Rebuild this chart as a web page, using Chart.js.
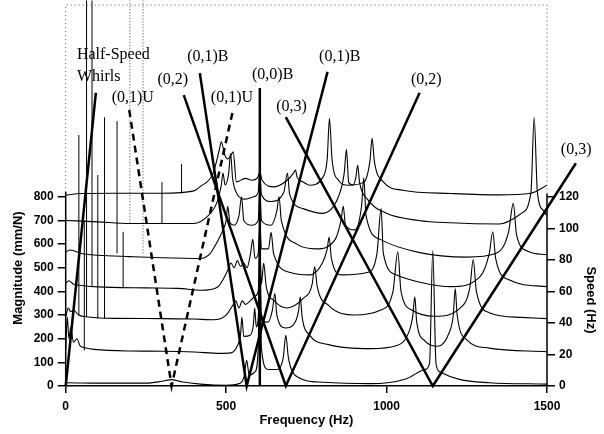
<!DOCTYPE html>
<html>
<head>
<meta charset="utf-8">
<script src="https://cdn.jsdelivr.net/npm/chart.js@4.4.1/dist/chart.umd.min.js"></script>
<style>
  body { margin: 0; background: #fff; }
  canvas { display: block; }
</style>
</head>
<body>
<canvas id="grafico" width="604" height="434"></canvas>
<script>
// eixos
const freqTicks = [0, 500, 1000, 1500];
const magTicks = [0, 100, 200, 300, 400, 500, 600, 700, 800];
const speedTicks = [0, 20, 40, 60, 80, 100, 120];

// espectros (frequência Hz, magnitude mm/N), um por velocidade
const trace0 = [[0,4],[4,14],[100,12],[250,12],[300,20],[330,27],[360,18],[420,8],[500,3],[540,10],[556,40],[564,109],[572,45],[590,60],[600,160],[605,740],[610,160],[630,70],[660,70],[678,120],[686,214],[694,120],[720,40],[800,16],[950,10],[1060,30],[1120,70],[1134,96],[1144,573],[1154,96],[1165,60],[1227,28],[1320,14],[1500,8]];
const trace1 = [[0,150],[5,290],[10,200],[16,250],[24,185],[35,200],[45,170],[60,162],[90,155],[200,148],[300,147],[400,144],[480,138],[515,140],[535,170],[545,220],[549,290],[555,210],[575,215],[585,260],[589,330],[594,250],[600,290],[605,460],[610,280],[630,270],[644,320],[652,391],[658,300],[685,245],[715,270],[726,320],[731,377],[737,290],[760,215],[820,175],[950,158],[1030,170],[1070,230],[1082,300],[1088,377],[1094,270],[1120,190],[1160,168],[1195,225],[1208,300],[1214,412],[1220,300],[1250,195],[1320,160],[1500,145]];
const trace2 = [[0,292],[8,330],[15,315],[25,320],[40,300],[70,292],[150,286],[300,285],[400,283],[460,280],[500,300],[520,340],[530,360],[540,330],[550,360],[560,345],[575,360],[590,380],[600,400],[605,560],[610,430],[617,520],[625,420],[650,360],[690,330],[740,370],[768,430],[776,504],[784,420],[820,340],[900,300],[980,320],[1020,400],[1035,567],[1045,400],[1080,320],[1150,295],[1230,330],[1260,420],[1270,535],[1280,400],[1320,310],[1420,290],[1500,285]];
const trace3 = [[0,434],[10,445],[25,430],[50,425],[100,419],[250,415],[350,413],[423,405],[474,419],[505,489],[515,520],[525,500],[535,530],[545,505],[555,520],[565,500],[576,560],[583,620],[590,540],[600,560],[605,690],[610,580],[632,580],[640,650],[648,560],[700,480],[760,470],[800,520],[815,580],[821,630],[828,540],[860,470],[940,480],[970,560],[983,750],[990,560],[1030,470],[1100,440],[1200,420],[1290,460],[1320,560],[1331,652],[1340,540],[1380,450],[1500,420]];
const trace4 = [[0,567],[15,575],[50,560],[100,553],[200,547],[300,542],[420,539],[450,560],[470,604],[490,659],[500,700],[505,760],[512,690],[525,680],[540,720],[548,800],[555,700],[580,680],[600,700],[605,830],[610,700],[640,680],[658,740],[665,800],[672,700],[720,600],[780,580],[840,620],[858,700],[865,760],[872,680],[900,660],[922,760],[929,880],[936,720],[980,620],[1100,565],[1250,545],[1340,560],[1380,650],[1395,772],[1405,640],[1440,570],[1500,555]];
const trace5 = [[0,700],[100,694],[200,687],[400,687],[440,715],[470,772],[485,850],[490,900],[497,850],[508,900],[514,983],[520,880],[535,810],[560,790],[585,800],[600,820],[605,900],[610,810],[640,780],[680,820],[691,900],[698,810],[740,750],[800,730],[850,800],[868,900],[875,1000],[882,860],[895,850],[904,880],[910,933],[916,860],[940,790],[1000,730],[1100,700],[1200,690],[1350,685],[1420,730],[1450,820],[1460,1135],[1470,820],[1490,740],[1500,720]];
const trace6 = [[0,807],[50,814],[150,815],[300,815],[400,825],[418,842],[459,899],[479,1000],[485,1033],[495,980],[505,960],[515,975],[522,990],[532,863],[560,878],[580,870],[598,880],[605,906],[612,870],[650,842],[690,870],[710,900],[716,913],[722,880],[740,863],[760,849],[800,880],[815,960],[822,1131],[830,960],[850,870],[880,849],[930,863],[948,950],[955,1047],[962,950],[990,863],[1050,828],[1200,814],[1350,808],[1450,815],[1500,849]];
const traces = [trace0, trace1, trace2, trace3, trace4, trace5, trace6];

// harmônicos de rotação (frequência, base, topo)
const spikes = [[41,300,1061],[58,150,700],[65,292,1630],[82,419,1630],[100,286,892],[121,286,1136],[160,561,1120],[179,419,652],[300,688,862],[361,815,938]];
const dottedSpikes = [[200,688,1630],[241,561,1630]];

// linhas de modos (diagrama de Campbell)
const halfSpeed = [[0,0],[94,1239]];
const mode01U = [[198,1167],[330,0],[522,1170]];
const mode01B = [[418,1323],[564,0],[816,1328]];
const mode02 = [[368,1230],[686,0],[1103,1240]];
const mode03 = [[686,1137],[1144,0],[1590,942]];
const mode00B = [[605,0],[605,1260]];

// rótulos (texto, frequência, magnitude, alinhamento)
const rotulos = [
    ['Half-Speed', 35, 1400, 'left'],
    ['Whirls', 35, 1306, 'left'],
    ['(0,1)U', 209, 1218, 'center'],
    ['(0,2)', 334, 1294, 'center'],
    ['(0,1)B', 443, 1391, 'center'],
    ['(0,1)U', 518, 1218, 'center'],
    ['(0,0)B', 645, 1315, 'center'],
    ['(0,3)', 704, 1179, 'center'],
    ['(0,1)B', 854, 1391, 'center'],
    ['(0,2)', 1124, 1294, 'center'],
    ['(0,3)', 1591, 997, 'center']
];

const pts = arr => arr.map(([x, y]) => ({ x, y }));

function spikePts(lista) {
    const out = [];
    lista.forEach(([f, b, t]) => {
        out.push({ x: f, y: b }, { x: f, y: t }, { x: f, y: null });
    });
    return out;
}

const datasets = [];
traces.forEach(t => datasets.push({
    data: pts(t), borderColor: '#000', borderWidth: 1.1,
    cubicInterpolationMode: 'monotone', pointRadius: 0
}));
datasets.push({ data: spikePts(spikes), borderColor: '#000', borderWidth: 1, pointRadius: 0, tension: 0, clip: false });
datasets.push({ data: spikePts(dottedSpikes), borderColor: '#444', borderWidth: 1, borderDash: [1, 2], pointRadius: 0, tension: 0, clip: false });

function campbell(d, dash) {
    return { data: pts(d), borderColor: '#000', borderWidth: 2.5, borderDash: dash || [], pointRadius: 0, tension: 0, clip: false };
}
datasets.push(campbell(halfSpeed));
datasets.push(campbell(mode01U, [7, 5]));
datasets.push(campbell(mode01B));
datasets.push(campbell(mode02));
datasets.push(campbell(mode03));
datasets.push(campbell(mode00B));

const fonteTick = { family: 'Liberation Sans', weight: 'bold', size: 12 };
const semVirgula = v => String(v);

const moldura = {
    id: 'moldura',
    afterDatasetsDraw(chart) {
        const { ctx, chartArea: a, scales } = chart;
        const y800 = scales.y.getPixelForValue(820);
        const y120 = scales.y2.getPixelForValue(122);
        ctx.save();
        ctx.strokeStyle = '#555';
        ctx.lineWidth = 1;
        ctx.setLineDash([1, 3]);
        ctx.beginPath();
        ctx.moveTo(a.left, y800); ctx.lineTo(a.left, a.top);
        ctx.lineTo(a.right, a.top); ctx.lineTo(a.right, y120);
        ctx.stroke();
        ctx.setLineDash([]);
        ctx.strokeStyle = '#000';
        ctx.lineWidth = 1.5;
        ctx.beginPath();
        ctx.moveTo(a.left, a.bottom); ctx.lineTo(a.left, y800);
        ctx.moveTo(a.right, a.bottom); ctx.lineTo(a.right, y120);
        ctx.stroke();

        // rótulos dos modos
        ctx.fillStyle = '#000';
        ctx.font = '16px "Liberation Serif"';
        ctx.textBaseline = 'middle';
        rotulos.forEach(([txt, f, m, al]) => {
            ctx.textAlign = al;
            ctx.fillText(txt, scales.x.getPixelForValue(f), scales.y.getPixelForValue(m));
        });

        // títulos dos eixos
        ctx.font = 'bold 13px "Liberation Sans"';
        ctx.textAlign = 'center';
        ctx.fillText('Frequency (Hz)', (a.left + a.right) / 2, 420);
        ctx.save();
        ctx.translate(18, 268);
        ctx.rotate(-Math.PI / 2);
        ctx.fillText('Magnitude (mm/N)', 0, 0);
        ctx.restore();
        ctx.save();
        ctx.translate(591, 300);
        ctx.rotate(Math.PI / 2);
        ctx.fillText('Speed (Hz)', 0, 0);
        ctx.restore();
        ctx.restore();
    }
};

function fixaLargura(w) {
    return s => { s.width = w; s.paddingTop = 0; s.paddingBottom = 0; };
}

new Chart(document.getElementById('grafico'), {
    type: 'line',
    data: { datasets },
    options: {
        responsive: false,
        animation: false,
        layout: { padding: { top: 5 }, autoPadding: false },
        plugins: { legend: { display: false }, tooltip: { enabled: false } },
        scales: {
            x: {
                type: 'linear', min: 0, max: 1500,
                afterBuildTicks: s => { s.ticks = freqTicks.map(v => ({ value: v })); },
                afterFit: s => { s.height = 48; },
                ticks: { font: fonteTick, color: '#000', padding: 6, maxRotation: 0, callback: semVirgula },
                grid: { drawOnChartArea: false, tickLength: 7, color: '#000', lineWidth: 1.5 },
                border: { color: '#000', width: 1.5 }
            },
            y: {
                position: 'left', min: 0, max: 1611,
                afterBuildTicks: s => { s.ticks = magTicks.map(v => ({ value: v })); },
                afterFit: fixaLargura(65.7),
                ticks: { font: fonteTick, color: '#000', padding: 4, callback: semVirgula },
                grid: { drawOnChartArea: false, tickLength: 8, color: '#000', lineWidth: 1.5 },
                border: { display: false }
            },
            y2: {
                position: 'right', min: 0, max: 241.65,
                afterBuildTicks: s => { s.ticks = speedTicks.map(v => ({ value: v })); },
                afterFit: fixaLargura(57),
                ticks: { font: fonteTick, color: '#000', padding: 4, callback: semVirgula },
                grid: { drawOnChartArea: false, tickLength: 8, color: '#000', lineWidth: 1.5 },
                border: { display: false }
            }
        }
    },
    plugins: [moldura]
});
</script>
</body>
</html>
